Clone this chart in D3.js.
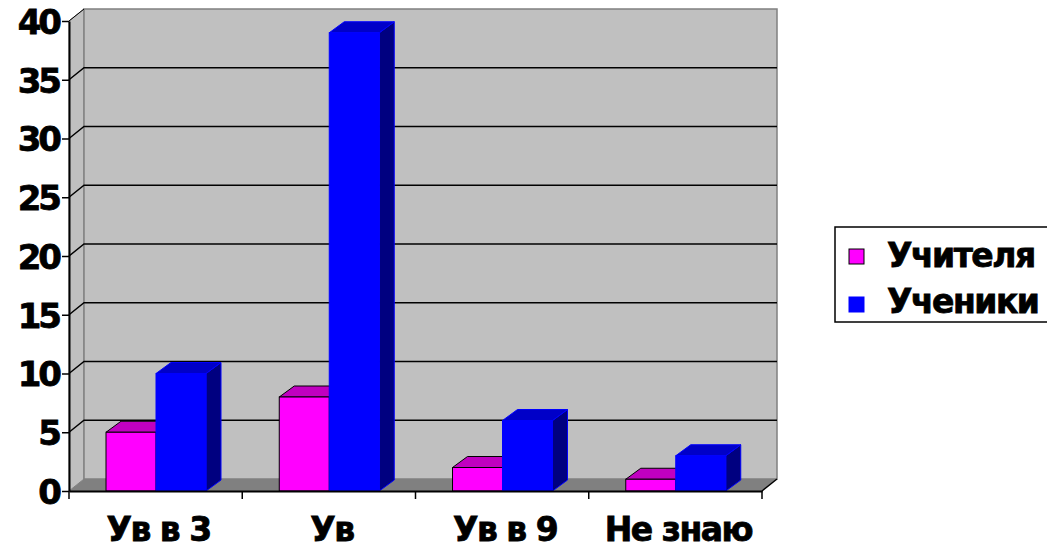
<!DOCTYPE html>
<html>
<head>
<meta charset="utf-8">
<script src="https://cdn.jsdelivr.net/npm/d3@7"></script>
<style>
  body { margin: 0; background: #fff; }
  svg text { font-family: "DejaVu Sans", Verdana, sans-serif; font-weight: bold; fill: #000; stroke: #000; stroke-width: 0.8px; }
</style>
</head>
<body>
<svg id="chart" width="1047" height="550"></svg>
<script>
let categories = ['Ув в 3', 'Ув', 'Ув в 9', 'Не знаю'];
let seriesNames = ['Учителя', 'Ученики'];
let teachers = [5, 8, 2, 1];
let students = [10, 39, 6, 3];
let yTicks = [0, 5, 10, 15, 20, 25, 30, 35, 40];

let front = ['#ff00ff', '#0000ff'];
let tops = ['#c000c0', '#0000c8'];
let sides = ['#800080', '#000080'];
let strokes = ['#000', '#0000ff'];

let svg = d3.select('#chart');
let dx = 15, dy = -12;      // depth of the wall
let bdx = 15, bdy = -11;    // depth of the bars

let y = d3.scaleLinear().domain([0, 40]).range([491, 21]);
let x = d3.scaleBand().domain(categories).range([69, 762]);
let x1 = d3.scaleBand().domain(seriesNames).range([37, 137]);

let pLeft = 69, pRight = 762, pBottom = y(0), pTop = y(40);

// side wall
svg.append('polygon')
  .attr('points', [[pLeft, pTop], [pLeft + dx, pTop + dy], [pLeft + dx, pBottom + dy], [pLeft, pBottom]].join(' '))
  .attr('fill', '#c0c0c0').attr('stroke', '#808080');
// back wall
svg.append('rect')
  .attr('x', pLeft + dx).attr('y', pTop + dy)
  .attr('width', pRight - pLeft).attr('height', pBottom - pTop)
  .attr('fill', '#c0c0c0').attr('stroke', '#808080').attr('stroke-width', 1.5);
// floor
svg.append('polygon')
  .attr('points', [[pLeft, pBottom], [pLeft + dx, pBottom + dy], [pRight + dx, pBottom + dy], [pRight, pBottom]].join(' '))
  .attr('fill', '#808080');

// gridlines
yTicks.slice(1, -1).forEach(t => {
  svg.append('polyline')
    .attr('points', [[pLeft, y(t)], [pLeft + dx, y(t) + dy], [pRight + dx, y(t) + dy]].join(' '))
    .attr('fill', 'none').attr('stroke', '#000').attr('stroke-width', 1.5);
});
svg.append('line')
  .attr('x1', pLeft).attr('y1', pTop).attr('x2', pLeft + dx).attr('y2', pTop + dy)
  .attr('stroke', '#000').attr('stroke-width', 1);
svg.append('line')
  .attr('x1', pRight).attr('y1', pBottom).attr('x2', pRight + dx).attr('y2', pBottom + dy)
  .attr('stroke', '#000').attr('stroke-width', 1.5);

// bars
let values = [teachers, students];
categories.forEach((c, ci) => {
  seriesNames.forEach((s, si) => {
    let v = values[si][ci];
    let x0 = x(c) + x1(s), w = x1.bandwidth();
    let yt = y(v), yb = y(0);
    let g = svg.append('g');
    g.append('polygon')
      .attr('points', [[x0 + w, yt], [x0 + w + bdx, yt + bdy], [x0 + w + bdx, yb + bdy], [x0 + w, yb]].join(' '))
      .attr('fill', sides[si]).attr('stroke', strokes[si]).attr('stroke-width', 1);
    g.append('polygon')
      .attr('points', [[x0, yt], [x0 + bdx, yt + bdy], [x0 + w + bdx, yt + bdy], [x0 + w, yt]].join(' '))
      .attr('fill', tops[si]).attr('stroke', strokes[si]).attr('stroke-width', 1);
    g.append('rect')
      .attr('x', x0).attr('y', yt).attr('width', w).attr('height', yb - yt)
      .attr('fill', front[si]).attr('stroke', strokes[si]).attr('stroke-width', 1);
  });
});

// y axis
let yAxis = d3.axisLeft(y).tickValues(yTicks).tickSize(7).tickSizeOuter(0);
let ya = svg.append('g').attr('transform', `translate(${pLeft},0)`).call(yAxis);
ya.select('.domain').attr('stroke', '#000').attr('stroke-width', 2);
ya.selectAll('.tick line').attr('stroke', '#000').attr('stroke-width', 1.5);
ya.selectAll('.tick text')
  .attr('x', -10).attr('dy', '0.36em')
  .style('font-size', '34px').style('letter-spacing', '-3px');

// x axis
let xAxis = d3.axisBottom(x).tickSize(0).tickSizeOuter(0);
let xa = svg.append('g').attr('transform', `translate(0,${pBottom})`).call(xAxis);
xa.select('.domain').attr('stroke', '#000').attr('stroke-width', 2);
xa.selectAll('.tick text').attr('y', 50).attr('dy', 0).attr('dx', 3)
  .style('font-size', '33px').style('letter-spacing', '-1.5px');
// tick marks at category boundaries
let bounds = categories.map(c => x(c)).concat([pRight]);
xa.selectAll('.bound').data(bounds).enter().append('line')
  .attr('x1', d => d).attr('x2', d => d).attr('y1', 0).attr('y2', 8)
  .attr('stroke', '#000').attr('stroke-width', 1.5);

// legend
let lg = svg.append('g').attr('transform', 'translate(835,227)');
lg.append('rect').attr('x', 0).attr('y', 0).attr('width', 230).attr('height', 95)
  .attr('fill', '#fff').attr('stroke', '#000').attr('stroke-width', 1.5);
seriesNames.forEach((s, i) => {
  lg.append('rect').attr('x', 14).attr('y', 22 + i * 48).attr('width', 15).attr('height', 15)
    .attr('fill', front[i]).attr('stroke', i === 0 ? '#000' : front[i]).attr('stroke-width', 1);
  lg.append('text').attr('x', 52).attr('y', 40 + i * 46).text(s)
    .style('font-size', '33px').style('letter-spacing', '-1.5px');
});
</script>
</body>
</html>
